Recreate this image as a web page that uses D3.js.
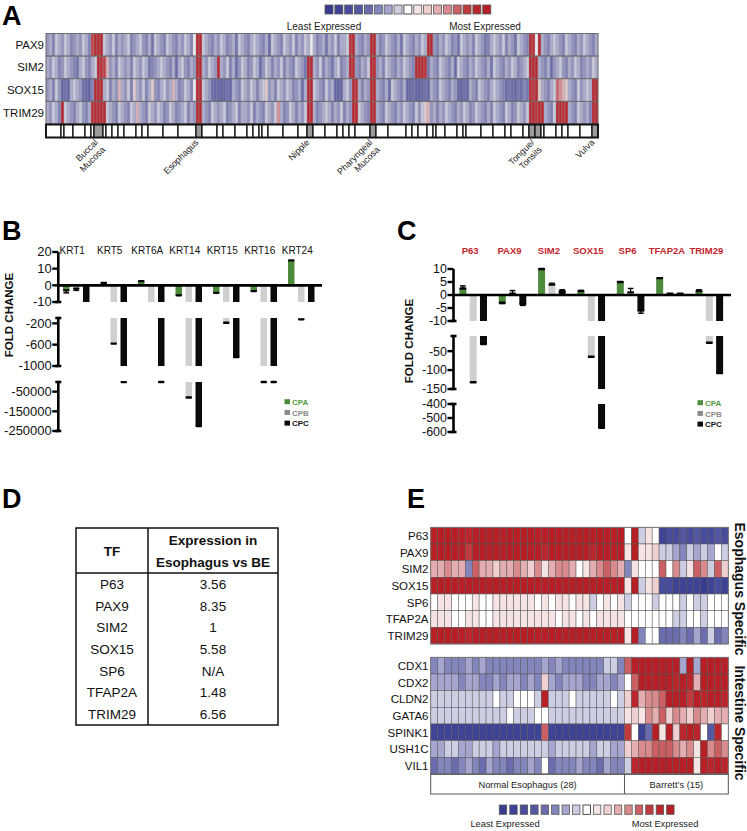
<!DOCTYPE html>
<html><head><meta charset="utf-8">
<script src="https://cdn.jsdelivr.net/npm/d3@7"></script>
<style>body{margin:0;background:#fff}svg{display:block;font-family:"Liberation Sans",Arial,Helvetica,sans-serif}</style>
</head><body><svg id="c" width="747" height="831"></svg>
<script>
// ---------------- DATA ----------------
const levelCodes = "abcdefghijklmnopq"; // a = least expressed ... i = neutral ... q = most expressed
const levelColors = ["#383c91","#3f4396","#484c9c","#5458a3","#6a6cae","#8385bd","#a5a5cf","#cdcde4","#ffffff",
  "#f6e4e4","#efcfd0","#e4adaf","#d88a8d","#cc5f63","#c13a3e","#b9272c","#b51f25"];

// Panel A
const genesA = ["PAX9","SIM2","SOX15","TRIM29"];
const heatA = [
  "fgehgfhgef"+"gfhgeoqqqh"+"gfhegfghef"+"ghfegdhgfe"+"hgfegfhgei"+"qqhgfegfhg"+"efgdhgfegh"+"gfegchgfeh"+"gfhegfhgig"+"efgdgfhegg"+"hpqgfegfqq"+"gefhgfegdh"+"gfegfhgqqf"+"egfhgefdhg"+"fgehgfdegh"+"gfhegfdhgf"+"eqpiqgfegh"+"gfehgfegfh"+"gfeg",
  "gfhgefhgfe"+"dghfeghqpo"+"lfgehgfgeh"+"gfhgdefghg"+"fegcghfegf"+"qqgfhgfqgf"+"hegcfhgefh"+"gcfhgegfhe"+"gfehgfdqqg"+"fhegfdghef"+"gqpfegfhqq"+"fgehgfegfh"+"gfeqqqpdgf"+"ehgfegchgf"+"egfhgfegdh"+"gfegfhgefg"+"hqqqgfegcf"+"ghfegfhgef"+"gfhg",
  "fgehfbcbgh"+"gfcbaeqqqg"+"hegflgfhek"+"gfhegkfegh"+"fglgefhgei"+"qqhgfcbbab"+"cbgfehgfhg"+"eghkfgehgf"+"hgefgcgqqh"+"gfehfgbabg"+"hfqpgegfqq"+"gfegchgfeg"+"bbcaabcbgf"+"ehgfegfbac"+"bgfehgfegh"+"gfecdcbdce"+"dqpqkgfegh"+"nmlkgfehfg"+"hgqq",
  "gfhgeqhgfe"+"ghfegpqqqq"+"hgfehgfehg"+"lgfehgfhge"+"fhgefghegf"+"qqgfehgfgh"+"efgheggfhe"+"gfehgfhmge"+"fhgegfhqqg"+"efghgegfhe"+"gfqqhgfeqq"+"gfehgfegfh"+"gfehfhklfg"+"egfhgfegfh"+"gefhgfegeh"+"gfehgefhgf"+"hqqpqqgfeh"+"qqpqgfehgf"+"geqq"
];
const sampleCountA = 184;
const tissueBounds = [0,5,6,9,13,15,16,19,20,22,24,26,30,32,34,39,44,50,52,57,59,63,67,69,71,72,74,79,84,87,89,93,97,99,101,103,108,110,114,120,122,124,127,129,130,133,137,139,140,145,149,153,155,159,161,163,165,166,170,172,174,178,182,184];
const tissueGreyStarts = [16,50,87,108,161,163,182];
const tissueNames = [["Buccal","Mucosa"],["Esophagus"],["Nipple"],["Pharyngeal","Mucosa"],["Tongue/","Tonsils"],["Vulva"]];
const tissueRanges = [[16,19],[50,52],[87,89],[108,110],[161,165],[182,184]];

// Panel B
const genesB = ["KRT1","KRT5","KRT6A","KRT14","KRT15","KRT16","KRT24"];
const cpaB = [-3, 1.5, 2.5, -6, -4.5, -3.5, 15];
const cpbB = [-2, -580, -10, -80000, -190, -1100, -125];
const cpcB = [-10, -1500, -1100, -225000, -830, -1200, -10];
const cpaErrB = [1.5, 0, 0, 0, 0, 0, 0];
const cpbErrB = [1, 0, 0, 0, 0, 0, 0];
const cpcErrB = [0, 0, 0, 0, 0, 0, 0];
const ticksB = [[20,10,0,-10],[-200,-600,-1000],[-50000,-150000,-250000]];
const domainsB = [[20,-10],[-100,-1000],[-1000,-250000]];

// Panel C
const genesC = ["P63","PAX9","SIM2","SOX15","SP6","TFAP2A","TRIM29"];
const cpaC = [2.5, -3, 10, 1.5, 5, 6.5, 1.5];
const cpbC = [-132, 0.5, 4, -65, 1, 0.5, -28];
const cpcC = [-31, -3.5, 1.5, -570, -6, 0.5, -108];
const cpaErrC = [1, 0.3, 0, 0.3, 0, 0, 0.5];
const cpbErrC = [0, 1.2, 0.5, 0, 1.5, 0, 0];
const cpcErrC = [0, 0.5, 0.5, 0, 1, 0, 0];
const ticksC = [[10,5,0,-5,-10],[-50,-100,-150],[-400,-500,-600]];
const domainsC = [[10,-10],[-10,-150],[-400,-600]];
const seriesNames = ["CPA","CPB","CPC"];

// Panel D
const tfD = ["P63","PAX9","SIM2","SOX15","SP6","TFAP2A","TRIM29"];
const exprD = ["3.56","8.35","1","5.58","N/A","1.48","6.56"];

// Panel E
const genesEso = ["P63","PAX9","SIM2","SOX15","SP6","TFAP2A","TRIM29"];
const heatEso = [
  "qqqqqpqqqqqqqqqqqqqqqqqqqqqq"+"iqhjibccdcdccdc",
  "qqqqqoqqqqqqqqqqpqqqqqqpqqqq"+"jqjjkhhgfhghgih",
  "llmllfnllkllmlkmjlmmlijlmnml"+"fjiiinimhjnmhnk",
  "qqqqqqqqqqqqqqqqqqqqqqqqqqqq"+"jqhjkccbbbbabcb",
  "ijjiiijiijjjjjjijijjijjhijij"+"hiiihiiihihhiii",
  "jjjiijjiijjjjjjjjjijjijijjjj"+"iiiiiiihhiihiii",
  "qqqqqpqqqqqqqqqqqqqqqqqqqqqq"+"jqfiieeefegehef"
];
const genesInt = ["CDX1","CDX2","CLDN2","GATA6","SPINK1","USH1C","VIL1"];
const heatInt = [
  "fgfffgfgffffffffgfgffffffhhf"+"nqqqqqqqgqgqqqq",
  "ggggfggffgfggfgfkgfgggffggfg"+"inqqqqqpqplqqqq",
  "hhhhhhhhhihhiiihqhhhihhhhhih"+"kplmmnqqqoqpqqp",
  "hhhhhhhhhhhihhhiihhhhhhhhhhh"+"jkjmlnkmlkmlkll",
  "bbbbbbbbbbbbbbbbnbbbbbbbbbbb"+"oibeqjqkpqpidpi",
  "gghhgghhhghhhhhhhghhhhhghhgg"+"klmmnnnmlmjqmnm",
  "effefgfegffeffgfiefffgffegff"+"hpqqqqqqqqjqpqp"
];
const groupsE = [["Normal Esophagus (28)",28],["Barrett\u2019s (15)",15]];

// ---------------- DRAW ----------------
const svg = d3.select("#c");
const colorOf = ch => levelColors[levelCodes.indexOf(ch)];
const colorOfA = ch => {
  const lv = levelCodes.indexOf(ch);
  return d3.interpolateRgb(colorOf(ch), "#bdbdc6")(lv >= 12 ? 0.08 : 0.3);
};

function txt(g, x, y, s, size, opts={}) {
  const t = g.append("text").attr("x", x).attr("y", y).text(s).attr("font-size", size)
    .attr("fill", opts.fill || "#111").attr("text-anchor", opts.anchor || "start");
  if (opts.bold) t.attr("font-weight", "bold");
  return t;
}

[["A",2,25],["B",2,240],["C",397,240],["D",2,508],["E",407,508]].forEach(([l,x,y]) =>
  txt(svg, x, y, l, 27, {bold:true, fill:"#000"}));

function colorLegend(x0, pitch, y0, w, h, lx1, lx2, ly, fs) {
  const g = svg.append("g");
  levelColors.forEach((c, i) => {
    g.append("rect").attr("x", x0 + i * pitch).attr("y", y0).attr("width", w).attr("height", h)
      .attr("fill", c).attr("stroke", i === 8 ? "#222" : "#555").attr("stroke-width", 0.8);
  });
  txt(g, lx1, ly, "Least Expressed", fs, {anchor:"middle", fill:"#222"});
  txt(g, lx2, ly, "Most Expressed", fs, {anchor:"middle", fill:"#222"});
}

// ---- Panel A ----
colorLegend(325, 9.86, 5, 8, 9, 324, 485, 30, 10);
const xA = d3.scaleLinear().domain([0, sampleCountA]).range([46, 598]);
const yA = d3.scaleBand().domain(genesA).range([33.5, 124]);
const gA = svg.append("g");
genesA.forEach((gn, ri) => {
  const s = heatA[ri];
  for (let i = 0; i < s.length; i++) {
    gA.append("rect").attr("x", xA(i)).attr("y", yA(gn)).attr("width", xA(i+1) - xA(i)).attr("height", yA.bandwidth())
      .attr("fill", colorOfA(s[i])).attr("stroke", "#a4a4ae").attr("stroke-width", 0.3);
  }
  gA.append("rect").attr("x", xA(0)).attr("y", yA(gn)).attr("width", xA(sampleCountA) - xA(0)).attr("height", yA.bandwidth())
    .attr("fill", "none").attr("stroke", "#666").attr("stroke-width", 0.9);
  txt(gA, 44, yA(gn) + yA.bandwidth()/2 + 4, gn, 11.5, {anchor:"end", fill:"#111"});
});
for (let k = 0; k < tissueBounds.length - 1; k++) {
  const a = tissueBounds[k], b = tissueBounds[k+1];
  gA.append("rect").attr("x", xA(a)).attr("y", 124.5).attr("width", xA(b) - xA(a)).attr("height", 13)
    .attr("fill", tissueGreyStarts.includes(a) ? "#9b9b9b" : "#fff").attr("stroke", "#111").attr("stroke-width", 1.3);
}
gA.append("rect").attr("x", xA(0)).attr("y", 124.5).attr("width", xA(sampleCountA) - xA(0)).attr("height", 13)
  .attr("fill", "none").attr("stroke", "#111").attr("stroke-width", 1.8);
tissueNames.forEach((lines, i) => {
  const cx = xA((tissueRanges[i][0] + tissueRanges[i][1]) / 2);
  const t = gA.append("text").attr("transform", `translate(${cx},143) rotate(-45)`)
    .attr("text-anchor", "end").attr("font-size", 9).attr("fill", "#222");
  lines.forEach((l, j) => t.append("tspan").attr("x", 0).attr("dy", j === 0 ? 0 : "1.15em").text(l));
});

// ---- Broken bar charts ----
const seriesColors = ["#4b8b3b", "#cfcfcf", "#0a0a0a"];
const legendText = ["#4f9a43", "#8a8a8a", "#111"];
function brokenBars(cfg) {
  const g = svg.append("g");
  const segs = cfg.domains.map((d, i) => d3.scaleLinear().domain(d).range(cfg.ranges[i]));
  const xb = d3.scaleBand().domain(cfg.genes).range(cfg.xr);
  const ax = cfg.axisX;
  const y0 = segs[0](0);
  cfg.series.forEach((vals, si) => {
    vals.forEach((v, gi) => {
      const cx = xb(cfg.genes[gi]) + xb.bandwidth()/2 + (si - 1) * cfg.pitch;
      const bx = cx - cfg.bw/2;
      let capY = null;
      segs.forEach((sc, k) => {
        const [top, bot] = sc.domain();
        let a, b;
        if (k === 0) {
          if (v >= 0) { a = v; b = 0; if (v > 0.2) capY = sc(v); }
          else { a = 0; b = Math.max(v, bot); if (v > bot) capY = sc(v); }
        } else {
          if (v >= top) return;
          a = top; b = Math.max(v, bot);
          if (v > bot) capY = sc(v);
        }
        const ya = sc(a), yb = sc(b);
        g.append("rect").attr("x", bx).attr("y", Math.min(ya, yb)).attr("width", cfg.bw)
          .attr("height", Math.max(0.01, Math.abs(yb - ya))).attr("fill", seriesColors[si]);
      });
      const err = cfg.errs[si][gi];
      if (err > 0) {
        const sc = segs[0];
        const e = v >= 0 ? v + err : v - err;
        g.append("line").attr("x1", cx).attr("x2", cx).attr("y1", sc(v)).attr("y2", sc(e)).attr("stroke", "#000").attr("stroke-width", 1.2);
        g.append("line").attr("x1", cx - 2.8).attr("x2", cx + 2.8).attr("y1", sc(e)).attr("y2", sc(e)).attr("stroke", "#000").attr("stroke-width", 1.5);
      }
      if (capY !== null) {
        g.append("rect").attr("x", bx).attr("y", capY - 1.2).attr("width", cfg.bw).attr("height", 2.4)
          .attr("rx", 1).attr("fill", "#000");
      }
    });
  });
  g.append("line").attr("x1", ax).attr("x2", cfg.baseEnd).attr("y1", y0).attr("y2", y0).attr("stroke", "#000").attr("stroke-width", 2.6);
  segs.forEach((sc, k) => {
    const [r0, r1] = sc.range();
    g.append("line").attr("x1", ax).attr("x2", ax).attr("y1", r0).attr("y2", r1).attr("stroke", "#000").attr("stroke-width", 2.6);
    if (k > 0) g.append("line").attr("x1", ax - 3).attr("x2", ax + 3).attr("y1", r0).attr("y2", r0).attr("stroke", "#000").attr("stroke-width", 2.6);
    g.append("line").attr("x1", ax - 3).attr("x2", ax + 3).attr("y1", r1).attr("y2", r1).attr("stroke", "#000").attr("stroke-width", 2.6);
    cfg.ticks[k].forEach(t => {
      g.append("line").attr("x1", ax - 6).attr("x2", ax).attr("y1", sc(t)).attr("y2", sc(t)).attr("stroke", "#000").attr("stroke-width", 2.4);
      txt(g, ax - 6.5, sc(t) + 4.4, String(t), cfg.tickFs, {anchor:"end", fill:"#111"});
    });
  });
  cfg.genes.forEach(gn => {
    txt(g, xb(gn) + xb.bandwidth()/2 + cfg.labelDx, 254, gn, cfg.labelFs, cfg.labelStyle);
  });
  g.append("text").attr("transform", `translate(${cfg.titleX},${cfg.titleY}) rotate(-90)`).attr("text-anchor", "middle")
    .attr("font-size", 11.5).attr("font-weight", "bold").attr("fill", "#111").text("FOLD CHANGE");
  seriesNames.forEach((n, i) => {
    const ly = cfg.legY + i * 10.7;
    g.append("rect").attr("x", cfg.legX).attr("y", ly - 2.8).attr("width", 5.5).attr("height", 5).attr("fill", i === 1 ? "#8a8a8a" : seriesColors[i]);
    txt(g, cfg.legX + 7.5, ly + 3, n, 8, {bold:true, fill:legendText[i]});
  });
}

brokenBars({
  genes: genesB, series: [cpaB, cpbB, cpcB], errs: [cpaErrB, cpbErrB, cpcErrB],
  domains: domainsB, ranges: [[252, 302], [318, 366], [382, 431]], ticks: ticksB,
  xr: [57.5, 320], axisX: 58.3, baseEnd: 322, pitch: 10, bw: 6.5, tickFs: 13,
  labelDx: -4, labelFs: 10, labelStyle: {anchor:"middle", fill:"#111"},
  titleX: 13, titleY: 315, legX: 284.5, legY: 402
});
brokenBars({
  genes: genesC, series: [cpaC, cpbC, cpcC], errs: [cpaErrC, cpbErrC, cpcErrC],
  domains: domainsC, ranges: [[269, 321], [336, 389], [404, 432]], ticks: ticksC,
  xr: [453.5, 729], axisX: 453.5, baseEnd: 731, pitch: 10.3, bw: 7, tickFs: 12.5,
  labelDx: -3, labelFs: 9.5, labelStyle: {anchor:"middle", fill:"#c4262e", bold:true},
  titleX: 413, titleY: 341, legX: 697.5, legY: 403
});

// ---- Panel D ----
const gD = svg.append("g");
const tL = 76, tM = 148, tR = 278, tT = 528, tH = 573;
const rowY = d3.scaleBand().domain(tfD).range([tH, 725]);
gD.append("rect").attr("x", tL).attr("y", tT).attr("width", tR - tL).attr("height", rowY.range()[1] - tT)
  .attr("fill", "none").attr("stroke", "#111").attr("stroke-width", 1.5);
gD.append("line").attr("x1", tL).attr("x2", tR).attr("y1", tH).attr("y2", tH).attr("stroke", "#111").attr("stroke-width", 1.5);
gD.append("line").attr("x1", tM).attr("x2", tM).attr("y1", tT).attr("y2", rowY.range()[1]).attr("stroke", "#111").attr("stroke-width", 1.5);
txt(gD, (tL + tM)/2, 556, "TF", 13.5, {anchor:"middle", bold:true});
txt(gD, (tM + tR)/2, 545, "Expression in", 13.5, {anchor:"middle", bold:true});
txt(gD, (tM + tR)/2, 567, "Esophagus vs BE", 13.5, {anchor:"middle", bold:true});
tfD.forEach((tf, i) => {
  const yy = rowY(tf) + rowY.bandwidth()/2 + 5;
  txt(gD, (tL + tM)/2, yy, tf, 13.5, {anchor:"middle"});
  txt(gD, (tM + tR)/2, yy, exprD[i], 13.5, {anchor:"middle"});
});

// ---- Panel E ----
const gE = svg.append("g");
const nE = heatEso[0].length;
const xE = d3.scaleLinear().domain([0, nE]).range([430.7, 728.3]);
function heatBlock(genes, rows, top) {
  const yb = d3.scaleBand().domain(genes).range([top, top + 16.67 * genes.length]);
  genes.forEach((gn, ri) => {
    const s = rows[ri];
    for (let i = 0; i < s.length; i++) {
      gE.append("rect").attr("x", xE(i)).attr("y", yb(gn)).attr("width", xE(i+1) - xE(i)).attr("height", yb.bandwidth())
        .attr("fill", colorOf(s[i])).attr("stroke", "#555").attr("stroke-width", 0.5);
    }
    txt(gE, 428.5, yb(gn) + yb.bandwidth()/2 + 4.2, gn, 11.5, {anchor:"end", fill:"#111"});
  });
  gE.append("rect").attr("x", xE(0)).attr("y", top).attr("width", xE(nE) - xE(0)).attr("height", 16.67 * genes.length)
    .attr("fill", "none").attr("stroke", "#777").attr("stroke-width", 0.9);
  return yb;
}
heatBlock(genesEso, heatEso, 527.3);
heatBlock(genesInt, heatInt, 657.3);
let acc = 0;
gE.append("rect").attr("x", xE(0)).attr("y", 774.3).attr("width", xE(nE) - xE(0)).attr("height", 19.7)
  .attr("fill", "none").attr("stroke", "#555").attr("stroke-width", 1);
groupsE.forEach(([name, n], i) => {
  const a = acc, b = acc + n;
  txt(gE, (xE(a) + xE(b))/2, 788, name, 9.3, {anchor:"middle", fill:"#222"});
  if (i > 0) gE.append("line").attr("x1", xE(a)).attr("x2", xE(a)).attr("y1", 774.3).attr("y2", 794).attr("stroke", "#555").attr("stroke-width", 1);
  acc = b;
});
[["Esophagus Specific", 589], ["Intestine Specific", 723]].forEach(([s, cy]) => {
  gE.append("text").attr("transform", `translate(734.5,${cy}) rotate(90)`).attr("text-anchor", "middle")
    .attr("font-size", 14).attr("font-weight", "bold").attr("fill", "#111").text(s);
});
colorLegend(499.3, 10.46, 805, 7.4, 9.3, 505, 665, 827, 9.3);
</script></body></html>
